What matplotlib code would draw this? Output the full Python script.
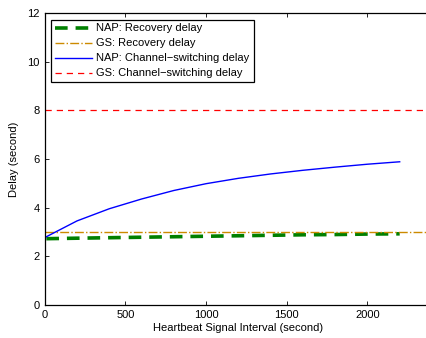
import matplotlib
matplotlib.use("Agg")
import matplotlib.pyplot as plt
import numpy as np

plt.rcParams['font.family'] = ['Liberation Sans', 'DejaVu Sans']

# heartbeat interval (s) and measured delays (s)
interval = [10, 200, 400, 600, 800, 1000, 1200, 1400, 1600, 1800, 2000, 2200]
nap_recovery = [2.72, 2.74, 2.76, 2.78, 2.80, 2.82, 2.84, 2.86, 2.88, 2.89, 2.91, 2.92]
nap_switching = [2.8, 3.45, 3.95, 4.35, 4.7, 4.98, 5.2, 5.38, 5.53, 5.66, 5.78, 5.88]
gs_range = [0, 2400]
gs_recovery = [3.0, 3.0]
gs_switching = [8.0, 8.0]

fig = plt.figure(figsize=(4.26, 3.38), dpi=100)
ax = fig.add_axes([0.105, 0.098, 0.909, 0.864])

ax.plot(interval, nap_recovery, '--', color='#008000', lw=2.6, dashes=(3.5, 2.2),
        label='NAP: Recovery delay')
ax.plot(gs_range, gs_recovery, '-.', color='#cc8a00', lw=1.0,
        label='GS: Recovery delay')
ax.plot(interval, nap_switching, '-', color='#0000ff', lw=1.0,
        label='NAP: Channel\u2212switching delay')
ax.plot(gs_range, gs_switching, '--', color='#ff0000', lw=0.9, dashes=(5, 4),
        label='GS: Channel\u2212switching delay')

ax.set_xlim(0, 2400)
ax.set_ylim(0, 12)
ax.set_xticks([0, 500, 1000, 1500, 2000])
ax.set_yticks([0, 2, 4, 6, 8, 10, 12])
ax.tick_params(direction='in', length=3, labelsize=8, top=True, right=False, width=0.6)
ax.spines['right'].set_visible(False)
for s in ax.spines.values():
    s.set_linewidth(0.9)
ax.set_xlabel('Heartbeat Signal Interval (second)', fontsize=8, labelpad=2)
ax.set_ylabel('Delay (second)', fontsize=8, labelpad=6)

leg = ax.legend(loc='upper left', fontsize=8, handlelength=3.3, handletextpad=0.4,
                borderaxespad=0.6, borderpad=0.35, labelspacing=0.45, fancybox=False,
                framealpha=1, edgecolor='black')
leg.get_frame().set_linewidth(0.9)

fig.savefig('out.png', dpi=100)
